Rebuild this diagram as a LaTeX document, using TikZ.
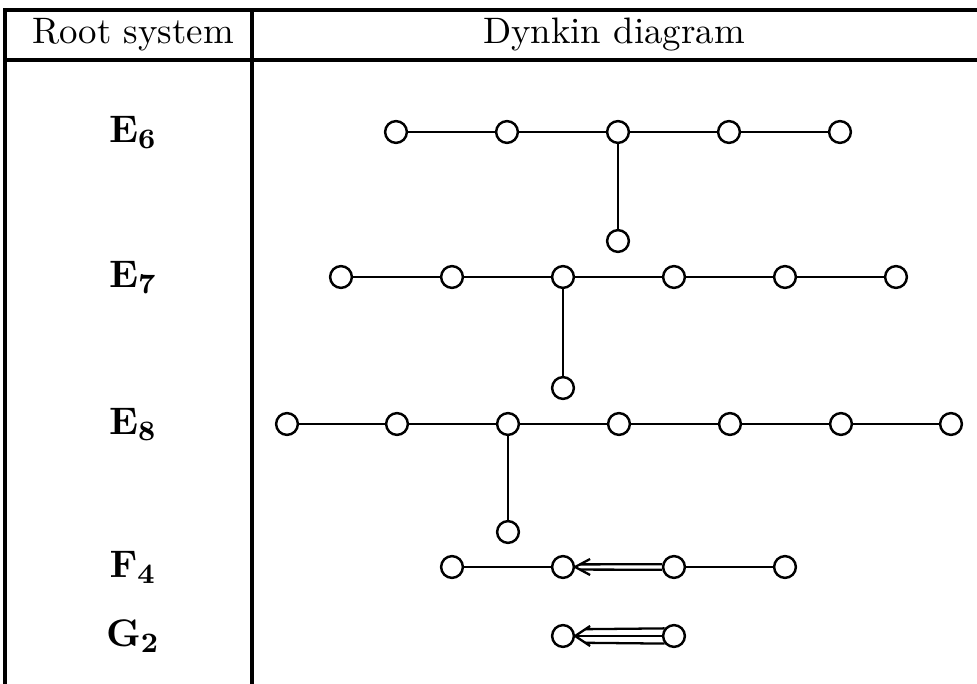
\documentclass[tikz,border=0pt]{standalone}
\usetikzlibrary{calc}
\begin{document}
\begin{tikzpicture}[x=0.285pt,y=-0.285pt,
  dot/.style={circle,draw,line width=0.7pt,minimum size=6.2pt,inner sep=0pt},
  bond/.style={line width=0.65pt},
  rule/.style={line width=0.9pt},
  head/.style={font=\fontsize{10.5}{12}\selectfont},
  lbl/.style={font=\fontsize{11}{13}\selectfont}]
\useasboundingbox (0,0) rectangle (977,684);

% table frame
\draw[rule] (5,684) -- (5,10) -- (977,10);
\draw[rule] (5,60) -- (977,60);
\draw[rule] (252,10) -- (252,684);

\node[head] (h1) at (133,35) {Root system};
\node[head] (h2) at (614,35) {Dynkin diagram};

% labels
\node[lbl] (l6) at (133,132) {$\mathbf{E_6}$};
\node[lbl] (l7) at (133,277) {$\mathbf{E_7}$};
\node[lbl] (l8) at (133,424) {$\mathbf{E_8}$};
\node[lbl] (lf) at (133,567) {$\mathbf{F_4}$};
\node[lbl] (lg) at (133,636) {$\mathbf{G_2}$};

% E6
\foreach \i/\x in {1/396,2/507,3/618,4/729,5/840}
  \node[dot] (e6\i) at (\x,132) {};
\node[dot] (e6b) at (618,241) {};
\draw[bond] (e61) -- (e62) -- (e63) -- (e64) -- (e65);
\draw[bond] (e63) -- (e6b);

% E7
\foreach \i/\x in {1/341,2/452,3/563,4/674,5/785,6/896}
  \node[dot] (e7\i) at (\x,277) {};
\node[dot] (e7b) at (563,388) {};
\draw[bond] (e71) -- (e72) -- (e73) -- (e74) -- (e75) -- (e76);
\draw[bond] (e73) -- (e7b);

% E8
\foreach \i/\x in {1/287,2/397,3/508,4/619,5/730,6/841,7/951}
  \node[dot] (e8\i) at (\x,424) {};
\node[dot] (e8b) at (508,532) {};
\draw[bond] (e81) -- (e82) -- (e83) -- (e84) -- (e85) -- (e86) -- (e87);
\draw[bond] (e83) -- (e8b);

% F4
\foreach \i/\x in {1/452,2/563,3/674,4/785}
  \node[dot] (f4\i) at (\x,567) {};
\draw[bond] (f41) -- (f42);
\draw[bond] (f43) -- (f44);
\draw[bond] ($(f42.east)+(5,-2.6)$) -- (f43.167);
\draw[bond] ($(f42.east)+(5,2.6)$) -- (f43.193);
\draw[bond] ($(f42.east)+(15,-8)$) -- (f42.east) -- ($(f42.east)+(15,8)$);

% G2
\node[dot] (g21) at (563,636) {};
\node[dot] (g22) at (674,636) {};
\draw[bond] ($(g21.east)+(2,0)$) -- (g22);
\draw[bond] ($(g21.east)+(10,-6.8)$) -- (g22.141);
\draw[bond] ($(g21.east)+(10,6.8)$) -- (g22.219);
\draw[bond] ($(g21.east)+(15,-10)$) -- (g21.east) -- ($(g21.east)+(15,10)$);
\end{tikzpicture}
\end{document}
